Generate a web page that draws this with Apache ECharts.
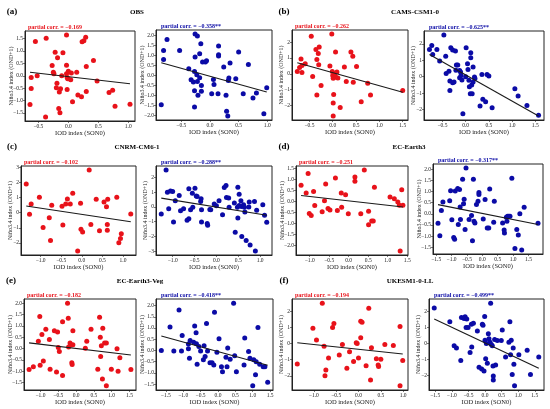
<!DOCTYPE html>
<html lang="en">
<head>
<meta charset="UTF-8" />
<title>IOD vs Nino3.4 partial correlation</title>
<script src="https://cdn.jsdelivr.net/npm/echarts@6/dist/echarts.min.js"></script>
<style>
  body { margin: 0; background: #fff; }
  #chart { width: 550px; height: 409px; }
</style>
</head>
<body>
<div id="chart"></div>
<script>
// panel names, in reading order
const modelNames = ["OBS", "CAMS-CSM1-0", "CNRM-CM6-1", "EC-Earth3", "EC-Earth3-Veg", "UKESM1-0-LL"];
const panelTags = ["(a)", "(b)", "(c)", "(d)", "(e)", "(f)"];
const corrLabels = [
  "−0.169", "−0.358**", "−0.262", "−0.625**",
  "−0.102", "−0.288**", "−0.251", "−0.317**",
  "−0.182", "−0.418**", "−0.194", "−0.499**"
];
// tick spacing of each y axis (x axes all use 0.5)
const yTickSteps = [0.5, 0.5, 1, 1, 1, 1, 0.5, 0.5, 0.5, 0.5, 1, 1];

// [IOD, Nino3.4] pairs
const obsRed = [[-0.64,-1.16],[-0.62,-0.07],[-0.62,-0.51],[-0.55,1.38],[-0.52,0.0],[-0.38,-1.66],[-0.37,1.51],[-0.27,0.41],[-0.25,0.14],[-0.24,0.08],[-0.22,0.95],[-0.20,-0.48],[-0.19,-0.30],[-0.18,0.73],[-0.16,-1.32],[-0.15,-0.66],[-0.14,-1.49],[-0.13,-0.52],[-0.09,0.93],[-0.11,0.0],[-0.03,1.64],[-0.03,0.42],[-0.03,0.08],[-0.02,-0.07],[-0.01,-0.12],[0.0,0.18],[-0.02,-0.55],[0.05,0.11],[0.04,-0.16],[0.07,-1.05],[0.14,0.14],[0.16,-0.78],[0.22,-0.85],[0.23,1.37],[0.26,1.41],[0.29,1.55],[0.30,-0.64],[0.30,0.37],[0.42,0.62],[0.48,-0.21],[0.68,-0.68],[0.74,-0.58],[0.78,-1.23],[1.03,-1.15]];
const obsBlue = [[-0.85,-1.47],[-0.81,0.80],[-0.81,1.25],[-0.75,1.80],[-0.53,1.25],[-0.37,0.33],[-0.33,-0.22],[-0.29,-0.33],[-0.27,0.20],[-0.26,0.92],[-0.27,-0.77],[-0.27,-1.58],[-0.26,2.07],[-0.23,0.03],[-0.22,-0.30],[-0.22,1.97],[-0.21,-1.0],[-0.18,-0.12],[-0.18,1.08],[-0.16,1.58],[-0.15,-0.5],[-0.15,-0.8],[-0.13,0.67],[-0.08,0.67],[-0.06,0.73],[0.03,-0.92],[0.06,-0.2],[0.07,-0.45],[0.14,-0.92],[0.15,1.47],[0.15,1.03],[0.15,0.97],[0.24,0.42],[0.28,-1.0],[0.29,-1.8],[0.31,-2.03],[0.32,-0.25],[0.33,-0.13],[0.35,0.62],[0.45,-0.17],[0.50,1.17],[0.58,-0.92],[0.67,0.55],[0.75,-1.13],[0.81,-0.88],[0.94,-1.92],[0.99,-0.62]];
const camsRed = [[-0.76,0.15],[-0.71,0.40],[-0.68,0.94],[-0.66,0.09],[-0.66,0.53],[-0.59,0.64],[-0.46,2.38],[-0.43,-0.17],[-0.36,1.53],[-0.34,0.91],[-0.31,1.28],[-0.29,1.70],[-0.30,0.57],[-0.34,-1.34],[-0.25,-0.74],[-0.06,0.49],[-0.02,2.51],[-0.01,0.15],[0.0,-0.11],[0.01,-0.28],[0.02,-1.30],[0.01,-1.85],[0.01,-2.66],[0.04,0.0],[0.06,1.38],[0.07,-0.21],[0.09,0.11],[0.11,-0.26],[0.16,-2.13],[0.25,0.43],[0.29,-0.49],[0.39,1.38],[0.43,1.11],[0.44,-0.53],[0.51,0.47],[0.61,-1.77],[0.75,-0.60],[0.81,-1.34],[1.50,-1.06]];
const camsBlue = [[-0.78,1.66],[-0.73,1.90],[-0.71,1.35],[-0.62,1.66],[-0.56,0.95],[-0.47,2.53],[-0.43,1.25],[-0.42,0.20],[-0.36,0.34],[-0.34,-0.83],[-0.34,-0.26],[-0.32,1.76],[-0.28,1.62],[-0.28,-0.36],[-0.25,-0.32],[-0.22,1.56],[-0.21,0.40],[-0.20,0.71],[-0.17,0.71],[-0.13,0.38],[-0.13,-0.06],[-0.11,0.28],[-0.10,0.08],[-0.08,-0.20],[-0.06,-2.24],[0.0,0.0],[0.01,1.76],[0.04,0.79],[0.05,0.44],[0.07,-0.22],[0.08,-0.61],[0.10,-1.03],[0.11,1.45],[0.11,1.15],[0.13,-0.50],[0.14,-1.03],[0.16,-0.32],[0.16,0.59],[0.19,-0.02],[0.20,-0.10],[0.31,-1.78],[0.35,0.14],[0.37,-1.37],[0.43,-1.52],[0.46,0.14],[0.50,0.04],[0.57,-1.88],[1.06,-0.73],[1.13,-1.17],[1.32,-1.74],[1.57,-2.34]];
const cnrmRed = [[-1.35,1.89],[-1.27,-0.11],[-1.23,0.58],[-1.03,1.02],[-0.94,-0.98],[-0.79,-0.33],[-0.76,-1.84],[-0.73,0.49],[-0.48,0.42],[-0.46,-0.82],[-0.39,0.58],[-0.35,0.91],[-0.28,0.58],[-0.22,1.29],[-0.10,-2.53],[-0.03,0.62],[-0.02,-1.09],[0.02,-1.27],[0.18,2.82],[0.22,-0.78],[0.35,0.89],[0.43,-1.2],[0.54,0.71],[0.6,0.4],[0.62,-0.78],[0.62,-1.16],[0.63,0.89],[0.85,1.02],[0.9,-1.98],[0.94,-1.71],[0.96,-1.4],[1.19,-0.09]];
const cnrmBlue = [[-1.26,-0.47],[-1.15,2.52],[-1.12,1.01],[-1.05,1.1],[-1.09,-0.11],[-1.0,1.06],[-0.98,-1.01],[-0.94,0.43],[-0.85,0.79],[-0.82,-0.25],[-0.75,-0.11],[-0.67,-0.9],[-0.63,1.24],[-0.63,-0.79],[-0.59,-0.18],[-0.55,0.94],[-0.54,-0.02],[-0.49,1.28],[-0.46,0.76],[-0.44,0.72],[-0.36,0.38],[-0.35,0.56],[-0.34,-0.18],[-0.34,-1.01],[-0.21,-1.12],[-0.2,-1.24],[-0.15,-0.16],[-0.13,-0.18],[-0.05,0.2],[0.0,0.09],[0.06,0.43],[0.14,-0.52],[0.18,1.33],[0.22,1.46],[0.23,0.65],[0.28,0.61],[0.29,-0.02],[0.41,0.27],[0.43,-1.71],[0.48,-0.02],[0.49,1.35],[0.49,-0.74],[0.52,0.88],[0.52,0.11],[0.56,0.43],[0.57,0.04],[0.58,-2.0],[0.62,0.16],[0.64,-0.02],[0.65,-0.34],[0.68,-2.27],[0.74,0.0],[0.75,0.34],[0.77,-2.58],[0.87,0.38],[0.89,-2.99],[0.92,-0.22],[1.06,0.16],[1.1,-0.56],[1.15,-1.03]];
const ecRed = [[-1.22,0.73],[-1.09,0.38],[-1.04,1.26],[-1.01,-0.55],[-0.96,-0.64],[-0.90,0.45],[-0.87,-0.18],[-0.68,-0.47],[-0.62,0.03],[-0.59,0.79],[-0.53,-0.32],[-0.48,-0.39],[-0.34,1.06],[-0.29,-0.41],[-0.19,0.38],[-0.18,-0.26],[-0.08,0.30],[-0.01,-0.56],[0.16,1.11],[0.16,0.91],[0.31,-0.56],[0.40,1.42],[0.51,-0.44],[0.51,-1.06],[0.59,-0.88],[0.63,-0.88],[0.66,0.64],[1.06,0.20],[1.17,0.12],[1.26,-0.03],[1.30,-0.17],[1.32,-2.24],[1.36,0.53],[1.39,-0.17]];
const ecBlue = [[-1.44,-0.42],[-1.38,-0.98],[-1.33,0.15],[-1.28,0.53],[-1.06,0.58],[-1.03,1.03],[-0.99,-0.27],[-0.93,-1.06],[-0.90,-1.14],[-0.88,1.02],[-0.80,1.14],[-0.78,-0.48],[-0.74,1.09],[-0.72,0.30],[-0.71,-0.26],[-0.64,1.55],[-0.61,0.45],[-0.59,0.65],[-0.56,-0.71],[-0.53,2.05],[-0.43,-0.26],[-0.35,-0.08],[-0.32,-1.21],[-0.29,1.55],[-0.27,-0.33],[-0.24,-0.41],[-0.19,0.42],[-0.14,0.56],[-0.11,0.95],[-0.11,0.86],[0.03,-0.23],[0.09,0.64],[0.16,-0.64],[0.21,-0.64],[0.24,1.11],[0.37,-0.38],[0.39,0.56],[0.66,-0.41],[0.71,-0.73],[0.72,-0.86],[0.78,-0.15],[0.80,-0.33],[0.82,-0.11],[0.86,-0.11],[0.90,-0.11],[0.96,1.59],[1.06,-1.56],[1.12,-0.71],[1.17,-0.95],[1.22,0.0],[1.28,-1.62],[1.36,0.29],[1.81,-0.42]];
const vegRed = [[-1.32,-0.92],[-1.20,-0.80],[-1.06,0.32],[-1.02,1.41],[-1.01,-0.73],[-0.96,0.62],[-0.92,-0.55],[-0.85,0.85],[-0.75,0.40],[-0.73,-0.91],[-0.61,0.78],[-0.55,-1.03],[-0.52,0.73],[-0.50,0.05],[-0.47,-0.13],[-0.38,-1.18],[-0.38,1.18],[-0.24,2.0],[-0.22,1.33],[-0.21,0.07],[-0.17,0.25],[-0.14,0.16],[-0.09,0.78],[-0.12,-0.62],[-0.11,-0.70],[-0.09,0.17],[0.26,0.02],[0.30,0.32],[0.42,0.85],[0.61,-0.91],[0.66,1.38],[0.68,0.50],[0.69,-0.35],[0.71,0.13],[0.74,-1.34],[0.75,0.89],[0.80,0.25],[0.85,0.25],[0.85,-1.64],[0.99,-0.91],[1.15,-0.01],[1.18,-1.0],[1.23,-0.40],[1.54,-0.92]];
const vegBlue = [[-1.63,0.0],[-1.38,1.05],[-1.27,-0.02],[-1.05,-0.02],[-1.03,0.67],[-1.12,1.80],[-0.85,0.08],[-0.85,0.29],[-0.82,-0.35],[-0.8,0.44],[-0.7,0.36],[-0.67,1.09],[-0.63,0.79],[-0.62,0.30],[-0.6,-0.62],[-0.55,0.18],[-0.5,-0.02],[-0.42,-0.42],[-0.4,0.21],[-0.37,-0.27],[-0.33,1.20],[-0.3,-0.02],[-0.23,-0.55],[-0.17,-0.55],[-0.12,-0.65],[-0.1,1.70],[-0.03,-0.08],[0.03,0.52],[0.1,-0.73],[0.13,-0.95],[0.23,-0.30],[0.26,-0.73],[0.28,0.11],[0.35,-0.39],[0.45,2.11],[0.48,-0.24],[0.53,-0.95],[0.75,-0.65],[0.77,0.56],[0.88,-0.05],[0.92,-0.35],[1.0,-1.58],[1.03,-0.42],[1.08,-1.08],[1.1,-0.5],[1.15,1.02],[1.2,-0.62],[1.3,-0.73],[1.35,-0.73],[1.43,-1.42]];
const ukRed = [[-1.37,-1.27],[-1.02,0.95],[-0.94,0.22],[-0.77,-0.16],[-0.75,-1.99],[-0.73,-1.63],[-0.81,2.51],[-0.67,-0.89],[-0.58,1.0],[-0.55,1.25],[-0.43,-0.71],[-0.36,-0.05],[-0.26,-1.53],[-0.2,-0.5],[-0.11,-1.11],[-0.05,0.05],[-0.03,0.0],[0.0,-0.89],[0.05,0.37],[0.05,1.38],[0.08,1.32],[0.17,-1.38],[0.23,2.2],[0.27,-2.26],[0.29,-0.26],[0.4,-0.94],[0.44,-1.32],[0.45,-1.42],[0.5,-0.97],[0.59,-0.05],[0.78,-0.12],[0.93,1.06],[0.93,-2.62],[0.99,-1.04]];
const ukBlue = [[-1.53,2.21],[-1.06,1.35],[-0.93,-0.13],[-0.86,-0.27],[-0.73,-1.05],[-0.71,1.62],[-0.63,1.56],[-0.6,1.66],[-0.57,0.99],[-0.55,1.52],[-0.51,0.99],[-0.45,-0.55],[-0.4,-0.21],[-0.41,1.2],[-0.35,1.26],[-0.23,0.78],[-0.18,-1.47],[-0.1,-1.58],[-0.08,1.2],[-0.06,1.14],[-0.03,-1.71],[-0.01,1.68],[0.0,0.21],[0.02,-0.95],[0.04,0.0],[0.07,-1.22],[0.1,0.61],[0.12,0.29],[0.15,0.08],[0.17,2.51],[0.19,-0.06],[0.22,-0.13],[0.24,-1.39],[0.25,-2.02],[0.25,-2.27],[0.29,0.25],[0.32,-1.33],[0.37,0.19],[0.49,0.19],[0.52,0.84],[0.62,-0.84],[0.72,0.08],[0.75,1.35],[0.77,-0.69],[0.79,0.21],[0.82,-1.92],[0.85,-0.27],[0.87,-1.28],[0.89,-2.63],[1.02,-0.69],[1.27,-0.42],[1.37,-1.92],[1.62,-0.84]];

// end points of the black fit lines
const obsRedFit = [[-0.64, 0.14], [1.03, -0.32]];
const obsBlueFit = [[-0.85, 0.63], [0.99, -0.83]];
const camsRedFit = [[-0.76, 0.70], [1.50, -1.17]];
const camsBlueFit = [[-0.78, 1.35], [1.57, -2.38]];
const cnrmRedFit = [[-1.35, 0.44], [1.19, -0.60]];
const cnrmBlueFit = [[-1.26, 0.61], [1.15, -0.56]];
const ecRedFit = [[-1.22, 0.27], [1.39, -0.25]];
const ecBlueFit = [[-1.44, 0.41], [1.81, -0.48]];
const vegRedFit = [[-1.32, 0.25], [1.54, -0.28]];
const vegBlueFit = [[-1.63, 0.64], [1.43, -0.66]];
const ukRedFit = [[-1.37, 0.05], [0.99, -0.64]];
const ukBlueFit = [[-1.53, 1.52], [1.62, -1.54]];

const points = [obsRed, obsBlue, camsRed, camsBlue, cnrmRed, cnrmBlue, ecRed, ecBlue, vegRed, vegBlue, ukRed, ukBlue];
const fits = [obsRedFit, obsBlueFit, camsRedFit, camsBlueFit, cnrmRedFit, cnrmBlueFit, ecRedFit, ecBlueFit, vegRedFit, vegBlueFit, ukRedFit, ukBlueFit];

// layout (pixels): left, top, width, height of each plot box
const boxes = [
  [25, 31, 110, 90], [156, 30, 116, 90], [292, 30, 116, 90], [424, 31, 120, 89],
  [21, 166, 115, 89], [156, 166, 116, 89], [296, 166, 112, 89], [433, 164, 110, 90],
  [24, 299, 112, 91], [156, 299, 117, 91], [292, 299, 116, 91], [429, 299, 115, 91]
];
const titleSpots = [[12, 137, 12], [284, 415, 12], [12, 137, 147], [284, 409, 147], [11, 140, 281], [284, 410, 281]];

const FONT = '"Liberation Serif", "DejaVu Serif", serif';
const RED = "#e8121a";
const BLUE = "#0b0ba6";
const INK = "#222";

function bounds(vals) {
  const lo = Math.min(...vals), hi = Math.max(...vals);
  const pad = (hi - lo) * 0.05;
  return [lo - pad, hi + pad];
}
function ticksFor(lo, hi, step) {
  const out = [];
  for (let k = Math.ceil(lo / step - 1e-9); k * step <= hi + 1e-9; k++) out.push(+(k * step).toFixed(2));
  return out;
}
function fmt(step) {
  return (v) => {
    const s = step < 1 ? Math.abs(v).toFixed(1) : Math.abs(v).toFixed(0);
    return (v < -1e-9 ? "−" : "") + s;
  };
}

const grid = [], xAxis = [], yAxis = [], series = [], graphic = [];

points.forEach((pts, i) => {
  const [l, t, w, h] = boxes[i];
  const isLeft = i % 2 === 0;
  const color = isLeft ? RED : BLUE;
  const all = pts.concat(fits[i]);
  const [x0, x1] = bounds(all.map((d) => d[0]));
  const [y0, y1] = bounds(all.map((d) => d[1]));
  const xt = ticksFor(x0, x1, 0.5);
  const yt = ticksFor(y0, y1, yTickSteps[i]);

  grid.push({ left: l, top: t, width: w, height: h, show: true, borderColor: INK, borderWidth: 1 });
  xAxis.push({
    type: "value", gridIndex: i, min: x0, max: x1,
    name: "IOD index (SON0)", nameLocation: "middle", nameGap: 9, nameMoveOverlap: false,
    nameTextStyle: { fontFamily: FONT, fontSize: 6.5, color: INK },
    splitLine: { show: false },
    axisLine: { show: true, onZero: false, lineStyle: { color: INK, width: 1 } },
    axisTick: { show: true, length: 2, customValues: xt, lineStyle: { color: INK, width: 0.6 } },
    axisLabel: { customValues: xt, formatter: fmt(0.5), fontFamily: FONT, fontSize: 5.5, margin: 2.5, color: INK }
  });
  yAxis.push({
    type: "value", gridIndex: i, min: y0, max: y1,
    name: "Niño3.4 index (OND+1)", nameLocation: "middle", nameRotate: 90, nameMoveOverlap: false,
    nameGap: yTickSteps[i] < 1 ? 11 : 8,
    nameTextStyle: { fontFamily: FONT, fontSize: 6, color: INK },
    splitLine: { show: false },
    axisLine: { show: true, onZero: false, lineStyle: { color: INK, width: 1 } },
    axisTick: { show: true, length: 2, customValues: yt, lineStyle: { color: INK, width: 0.6 } },
    axisLabel: { customValues: yt, formatter: fmt(yTickSteps[i]), fontFamily: FONT, fontSize: 5.5, margin: 2, color: INK }
  });
  series.push({
    type: "scatter", xAxisIndex: i, yAxisIndex: i, data: pts,
    symbolSize: 5, itemStyle: { color: color, opacity: 1 }, z: 2
  });
  series.push({
    type: "line", xAxisIndex: i, yAxisIndex: i, data: fits[i],
    symbol: "none", lineStyle: { color: "#1a1a1a", width: 1.1 }, z: 3
  });
  graphic.push({
    type: "text", x: l + (isLeft ? 3 : 5), y: t - 4,
    style: {
      text: "partial corr. = " + corrLabels[i], fill: color,
      fontFamily: FONT, fontSize: 6, fontWeight: "bold", textVerticalAlign: "middle"
    }
  });
});

modelNames.forEach((name, k) => {
  const [tx, cx, cy] = titleSpots[k];
  graphic.push({
    type: "text", x: tx, y: cy,
    style: { text: panelTags[k], fill: "#000", fontFamily: FONT, fontSize: 9, fontWeight: "bold", textAlign: "center", textVerticalAlign: "middle" }
  });
  graphic.push({
    type: "text", x: cx, y: cy,
    style: { text: name, fill: "#000", fontFamily: FONT, fontSize: 7, fontWeight: "bold", textAlign: "center", textVerticalAlign: "middle" }
  });
});

const chart = echarts.init(document.getElementById("chart"));
chart.setOption({
  backgroundColor: "#fff",
  animation: false,
  grid: grid,
  xAxis: xAxis,
  yAxis: yAxis,
  series: series,
  graphic: graphic
});
</script>
</body>
</html>
